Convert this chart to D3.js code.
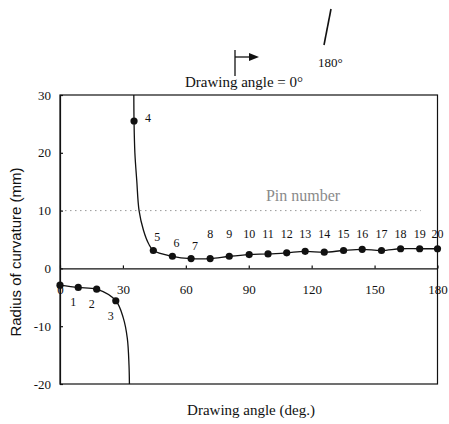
<!DOCTYPE html>
<html>
<head>
<meta charset="utf-8">
<script src="https://cdn.jsdelivr.net/npm/d3@7"></script>
</head>
<body style="margin:0; background:#fff">
<div id="chart"></div>
<script>
// pins
var pinNumber = [0, 1, 2, 3, 4, 5, 6, 7, 8, 9, 10, 11, 12, 13, 14, 15, 16, 17, 18, 19, 20]
var pinAngle = [0, 8.7, 17.5, 26.6, 35.3, 44.5, 53.6, 62.5, 71.6, 80.7, 90.2, 99.2, 108.1, 116.9, 126, 135.2, 144.1, 153.3, 162.4, 171.5, 180]
var pinRadius = [-2.9, -3.3, -3.6, -5.6, 25.5, 3.1, 2.1, 1.7, 1.7, 2.1, 2.4, 2.5, 2.7, 2.95, 2.8, 3.1, 3.3, 3.1, 3.4, 3.4, 3.4]

// fitted curve, lower branch (pins 0-3) and upper branch (pins 4-20)
var lowerAngle = [0, 8.7, 17.5, 26.6, 30.2, 32.1, 32.9, 33.1]
var lowerRadius = [-2.9, -3.3, -3.6, -5.6, -8.6, -12.1, -16.7, -20]
var upperAngle = [35.2, 35.3, 35.7, 36.6, 37.7, 39.8, 42.2, 44.5, 53.6, 62.5, 71.6, 80.7, 90.2, 99.2, 108.1, 116.9, 126, 135.2, 144.1, 153.3, 162.4, 171.5, 180]
var upperRadius = [30, 25.5, 20, 15.2, 10, 6.6, 4.3, 3.1, 2.1, 1.7, 1.7, 2.1, 2.4, 2.5, 2.7, 2.95, 2.8, 3.1, 3.3, 3.1, 3.4, 3.4, 3.4]

var xTicks = [0, 30, 60, 90, 120, 150, 180]
var yTicks = [-20, -10, 0, 10, 20, 30]

var serif = "Liberation Serif"
var width = 449, height = 424
var svg = d3.select("#chart").append("svg")
  .attr("width", width)
  .attr("height", height)
  .attr("font-family", serif)

var x = d3.scaleLinear().domain([0, 180]).range([60, 437.5])
var y = d3.scaleLinear().domain([-20, 30]).range([384, 95])

// dotted guide at 10
svg.append("line")
  .attr("x1", x(0)).attr("x2", x(172))
  .attr("y1", y(10)).attr("y2", y(10))
  .attr("stroke", "#999")
  .attr("stroke-width", 1)
  .attr("stroke-dasharray", "1.5,3.5")

svg.append("text")
  .attr("x", 303).attr("y", 201)
  .attr("text-anchor", "middle")
  .attr("font-family", serif)
  .attr("font-size", 16)
  .attr("fill", "#8a8a8a")
  .text("Pin number")

// frame
svg.append("rect")
  .attr("x", x(0)).attr("y", y(30))
  .attr("width", x(180) - x(0)).attr("height", y(-20) - y(30))
  .attr("fill", "none")
  .attr("stroke", "#111")
  .attr("stroke-width", 1.2)

// axes
var yAxis = svg.append("g")
  .attr("transform", "translate(" + x(0) + ",0)")
  .call(d3.axisLeft(y).tickValues(yTicks).tickSize(-3).tickPadding(9)
    .tickFormat(function (d) { return String(d) }))

var xAxis = svg.append("g")
  .attr("transform", "translate(0," + y(0) + ")")
  .call(d3.axisBottom(x).tickValues(xTicks).tickSizeInner(-3).tickSizeOuter(0).tickPadding(16))

svg.selectAll("g.tick text")
  .attr("font-family", serif)
  .attr("font-size", 13)
  .attr("fill", "#111")
yAxis.selectAll("line, path").attr("stroke", "#111").attr("stroke-width", 1.2)
xAxis.selectAll("line, path").attr("stroke", "#111").attr("stroke-width", 1.2)

// curves
var line = d3.line()
  .x(function (d) { return x(d[0]) })
  .y(function (d) { return y(d[1]) })
  .curve(d3.curveCatmullRom.alpha(0.5))

svg.append("path")
  .datum(d3.zip(lowerAngle, lowerRadius))
  .attr("d", line)
  .attr("fill", "none").attr("stroke", "#111").attr("stroke-width", 1.3)

svg.append("path")
  .datum(d3.zip(upperAngle, upperRadius))
  .attr("d", line)
  .attr("fill", "none").attr("stroke", "#111").attr("stroke-width", 1.3)

// pins
var pins = pinNumber.map(function (n, i) {
  return { n: n, a: pinAngle[i], r: pinRadius[i] }
})

svg.append("g").selectAll("circle")
  .data(pins)
  .enter().append("circle")
  .attr("cx", function (d) { return x(d.a) })
  .attr("cy", function (d) { return y(d.r) })
  .attr("r", 3.6)
  .attr("fill", "#111")

svg.append("g").selectAll("text")
  .data(pins.filter(function (d) { return d.n > 0 }))
  .enter().append("text")
  .attr("font-family", serif)
  .attr("font-size", 12)
  .attr("fill", "#111")
  .attr("text-anchor", "middle")
  .attr("x", function (d) {
    if (d.n == 4) return x(d.a) + 14
    if (d.n < 4) return x(d.a) - 5
    if (d.n < 8) return x(d.a) + 4
    return x(d.a)
  })
  .attr("y", function (d) {
    if (d.n < 4) return y(d.r) + 19
    if (d.n == 4) return y(d.r) + 1
    if (d.n < 8) return y(d.r) - 9
    return 238
  })
  .text(function (d) { return d.n })

// axis titles
svg.append("text")
  .attr("transform", "translate(21,252) rotate(-90)")
  .attr("text-anchor", "middle")
  .attr("font-family", "Liberation Sans")
  .attr("font-size", 15)
  .attr("fill", "#111")
  .text("Radius of curvature (mm)")

svg.append("text")
  .attr("x", 251).attr("y", 415)
  .attr("text-anchor", "middle")
  .attr("font-family", serif)
  .attr("font-size", 15)
  .attr("fill", "#111")
  .text("Drawing angle (deg.)")

// top annotation
svg.append("text")
  .attr("x", 244).attr("y", 87)
  .attr("text-anchor", "middle")
  .attr("font-family", serif)
  .attr("font-size", 15)
  .attr("fill", "#111")
  .text("Drawing angle = 0°")

svg.append("line")
  .attr("x1", 235).attr("x2", 235).attr("y1", 50).attr("y2", 76)
  .attr("stroke", "#111").attr("stroke-width", 1.3)
svg.append("line")
  .attr("x1", 235).attr("x2", 250).attr("y1", 57).attr("y2", 57)
  .attr("stroke", "#111").attr("stroke-width", 1.3)
svg.append("path")
  .attr("d", "M249,53L259,57L249,61Z")
  .attr("fill", "#111")

svg.append("line")
  .attr("x1", 331).attr("x2", 324).attr("y1", 9).attr("y2", 45)
  .attr("stroke", "#111").attr("stroke-width", 1.6)
svg.append("text")
  .attr("x", 318).attr("y", 67)
  .attr("font-family", serif)
  .attr("font-size", 13)
  .attr("fill", "#111")
  .text("180°")
</script>
</body>
</html>
